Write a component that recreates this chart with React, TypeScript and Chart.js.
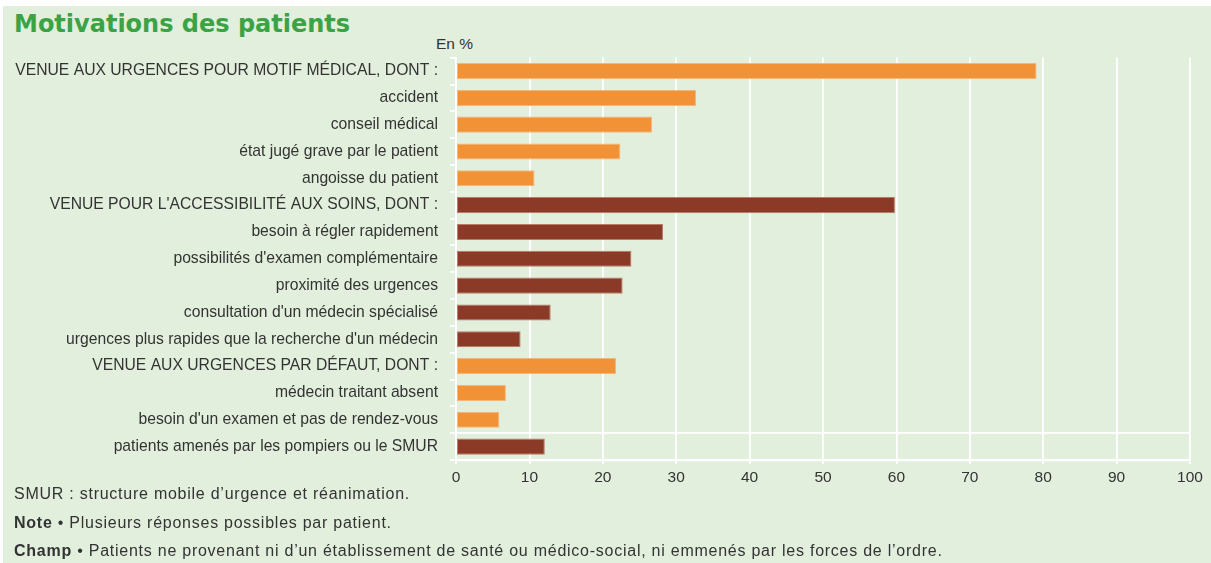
import React, { useEffect, useRef } from "react";
import { Chart, registerables } from "chart.js";

Chart.register(...registerables);

const categories: string[] = [
  "VENUE AUX URGENCES POUR MOTIF MÉDICAL, DONT :",
  "accident",
  "conseil médical",
  "état jugé grave par le patient",
  "angoisse du patient",
  "VENUE POUR L'ACCESSIBILITÉ AUX SOINS, DONT :",
  "besoin à régler rapidement",
  "possibilités d'examen complémentaire",
  "proximité des urgences",
  "consultation d'un médecin spécialisé",
  "urgences plus rapides que la recherche d'un médecin",
  "VENUE AUX URGENCES PAR DÉFAUT, DONT :",
  "médecin traitant absent",
  "besoin d'un examen et pas de rendez-vous",
  "patients amenés par les pompiers ou le SMUR",
];

const values: number[] = [79.1, 32.7, 26.7, 22.4, 10.7, 59.8, 28.2, 23.9, 22.7, 12.9, 8.8, 21.8, 6.8, 5.9, 12.1];

// colour group of each bar: "o" = orange, "b" = brown
const barGroups: string[] = ["o", "o", "o", "o", "o", "b", "b", "b", "b", "b", "b", "o", "o", "o", "b"];

const xTicks: number[] = [0, 10, 20, 30, 40, 50, 60, 70, 80, 90, 100];

const ORANGE = "#f19236";
const ORANGE_EDGE = "#f6b57a";
const BROWN = "#8a3a26";
const BROWN_EDGE = "#b97a68";
const BG = "#e2efdc";
const TEXT = "#333333";
const FONT = "'Liberation Sans', Arial, sans-serif";

export default function App() {
  const canvasRef = useRef<HTMLCanvasElement | null>(null);

  useEffect(() => {
    if (!canvasRef.current) return;
    const chart = new Chart(canvasRef.current, {
      type: "bar",
      data: {
        labels: categories,
        datasets: [
          {
            data: values,
            backgroundColor: barGroups.map((g) => (g === "o" ? ORANGE : BROWN)),
            borderColor: barGroups.map((g) => (g === "o" ? ORANGE_EDGE : BROWN_EDGE)),
            borderWidth: 1,
            borderSkipped: false,
            barPercentage: 0.6,
            categoryPercentage: 1,
          },
        ],
      },
      options: {
        indexAxis: "y",
        animation: false,
        responsive: true,
        maintainAspectRatio: false,
        layout: { padding: { top: 57.6, right: 21, bottom: 0, left: 0 } },
        plugins: {
          legend: { display: false },
          tooltip: { enabled: false },
          title: { display: false },
        },
        scales: {
          x: {
            min: 0,
            max: 100,
            afterFit: (scale: any) => {
              scale.height = 103;
            },
            afterBuildTicks: (scale: any) => {
              scale.ticks = xTicks.map((v) => ({ value: v }));
            },
            ticks: {
              color: TEXT,
              font: { family: FONT, size: 15.5 },
              padding: 4,
              maxRotation: 0,
            },
            grid: {
              color: "#ffffff",
              lineWidth: 1.8,
              tickLength: 4,
              tickColor: "#ffffff",
            },
            border: { display: true, color: "#ffffff", width: 2.2 },
          },
          y: {
            afterFit: (scale: any) => {
              scale.width = 456;
            },
            ticks: {
              color: TEXT,
              font: { family: FONT, size: 15.7 },
              padding: 12,
              autoSkip: false,
            },
            grid: {
              offset: true,
              drawOnChartArea: true,
              color: (ctx: any) => (ctx.index === 14 ? "#ffffff" : "rgba(0,0,0,0)"),
              lineWidth: 1.8,
              tickLength: 6,
              tickColor: "#ffffff",
            },
            border: { display: true, color: "#ffffff", width: 1.8 },
          },
        },
      },
    });
    return () => chart.destroy();
  }, []);

  const textStyle: React.CSSProperties = {
    position: "absolute",
    left: 14,
    fontFamily: FONT,
    fontSize: 16,
    letterSpacing: "0.75px",
    color: TEXT,
    whiteSpace: "nowrap",
    lineHeight: "18px",
  };

  return (
    <div style={{ position: "fixed", left: 0, top: 0, width: 1211, height: 563, background: "#ffffff" }}>
      <div style={{ position: "absolute", left: 3, top: 6, width: 1208, height: 557, background: BG }} />
      <div
        style={{
          position: "absolute",
          left: 14,
          top: 9,
          fontFamily: "'DejaVu Sans', Verdana, sans-serif",
          fontWeight: "bold",
          fontSize: 24,
          color: "#3aa346",
          whiteSpace: "nowrap",
          lineHeight: "30px",
        }}
      >
        Motivations des patients
      </div>
      <div style={{ ...textStyle, left: 436, top: 35, fontSize: 15.5, letterSpacing: "0px" }}>En %</div>
      <div style={{ position: "absolute", left: 0, top: 0, width: 1211, height: 563 }}>
        <canvas ref={canvasRef} />
      </div>
      <div style={{ ...textStyle, top: 485 }}>SMUR : structure mobile d’urgence et réanimation.</div>
      <div style={{ ...textStyle, top: 514 }}>
        <b>Note</b> • Plusieurs réponses possibles par patient.
      </div>
      <div style={{ ...textStyle, top: 542 }}>
        <b>Champ</b> • Patients ne provenant ni d’un établissement de santé ou médico-social, ni emmenés par les forces de l’ordre.
      </div>
    </div>
  );
}
